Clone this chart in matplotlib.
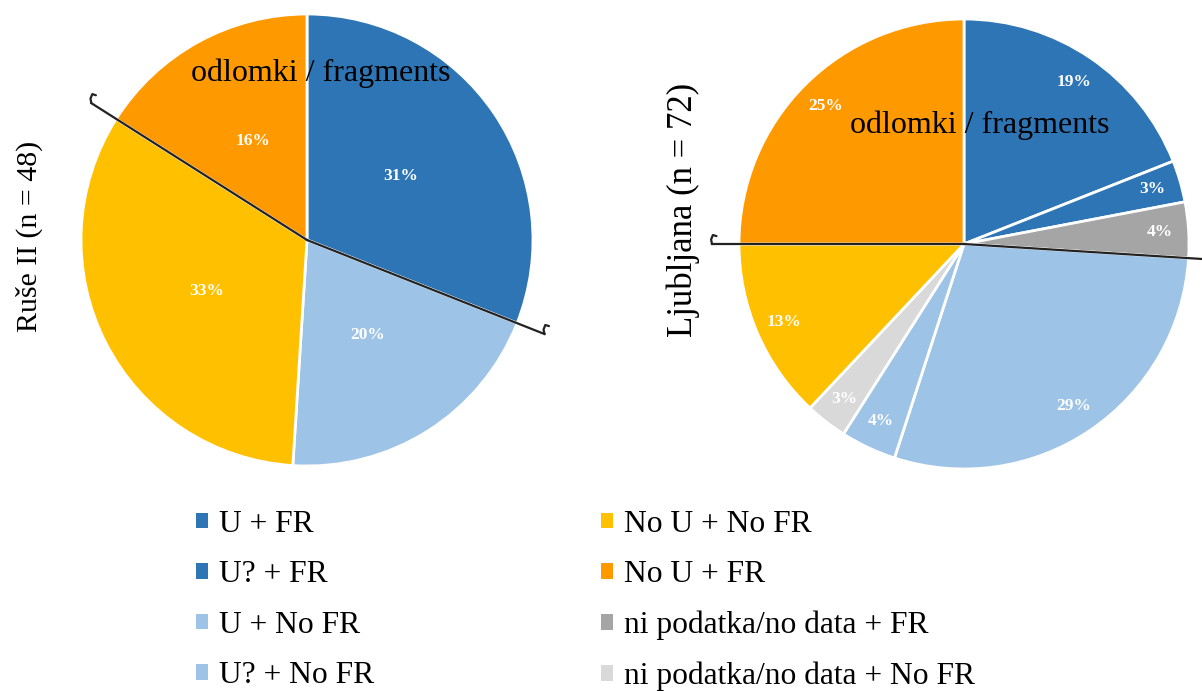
import numpy as np
import matplotlib
matplotlib.use("Agg")
import matplotlib.pyplot as plt
from matplotlib.patches import Patch

plt.rcParams['font.family'] = ['Liberation Serif', 'DejaVu Serif']

# categories in drawing order (clockwise from 12 o'clock)
categories = ["U + FR", "U? + FR", "ni podatka/no data + FR", "U + No FR",
              "U? + No FR", "ni podatka/no data + No FR", "No U + No FR", "No U + FR"]
colors = ["#2E75B6", "#2E75B6", "#A5A5A5", "#9DC3E6",
          "#9DC3E6", "#D9D9D9", "#FFC000", "#FF9900"]
has_fr = [True, True, True, False, False, False, False, True]

ruse_values = [31, 0, 0, 20, 0, 0, 33, 16]
ljubljana_values = [19, 3, 4, 29, 4, 3, 13, 25]

legend_col1 = ["U + FR", "U? + FR", "U + No FR", "U? + No FR"]
legend_col2 = ["No U + No FR", "No U + FR", "ni podatka/no data + FR", "ni podatka/no data + No FR"]

W, H = 1202, 691
fig = plt.figure(figsize=(W / 100, H / 100), dpi=100)


def pie_axes(cx, cy, r):
    ax = fig.add_axes([(cx - r) / W, (H - cy - r) / H, 2 * r / W, 2 * r / H])
    return ax


def hook(ax, x, y):
    hx = [x, x - 0.004, x + 0.004, x + 0.02]
    hy = [y, y + 0.02, y + 0.04, y + 0.035]
    ax.plot(hx, hy, color="#222222", lw=1.6, clip_on=False, solid_capstyle='round')


def draw_pie(ax, values, title, pctdist, title_pos, title_size, label_xy, ext):
    idx = [i for i, v in enumerate(values) if v > 0]
    vals = [values[i] for i in idx]
    cols = [colors[i] for i in idx]
    ax.pie(vals, colors=cols, startangle=90, counterclock=False,
           radius=1, frame=False,
           wedgeprops=dict(edgecolor="white", linewidth=2))
    ax.set_aspect('auto')
    ax.set_xlim(-1, 1)
    ax.set_ylim(-1, 1)
    ax.axis('off')
    total = float(sum(vals))
    cum = np.cumsum([0] + vals) / total
    # percentage labels
    for k, v in enumerate(vals):
        mid = np.deg2rad(90 - 360 * (cum[k] + cum[k + 1]) / 2)
        ax.text(pctdist * np.cos(mid), pctdist * np.sin(mid), f"{v}%",
                ha='center', va='center', color='white', fontsize=12.5, fontweight='bold')
    # fragment divider along FR / no FR boundaries
    flags = [has_fr[i] for i in idx]
    for k in range(len(vals)):
        if flags[k] != flags[(k + 1) % len(vals)]:
            ang = np.deg2rad(90 - 360 * cum[k + 1])
            ex, ey = ext * np.cos(ang), ext * np.sin(ang)
            ax.plot([0, ex], [0, ey], color="#222222", lw=1.6, clip_on=False)
            hook(ax, ex, ey)
    ax.text(label_xy[0], label_xy[1], "odlomki / fragments", ha='center', va='center',
            fontsize=23, color='black')
    fig.text(title_pos[0] / W, 1 - title_pos[1] / H, title, rotation=90,
             ha='center', va='center', fontsize=title_size)


ax1 = pie_axes(307, 240, 226)
draw_pie(ax1, ruse_values, "Ruše II (n = 48)", 0.5, (29, 236), 21.5, (0.06, 0.74), 1.13)

ax2 = pie_axes(964, 244, 225)
draw_pie(ax2, ljubljana_values, "Ljubljana (n = 72)", 0.87, (683, 210), 25, (0.07, 0.53), 1.12)


def make_legend(labels, x):
    handles = [Patch(facecolor=colors[categories.index(l)], edgecolor='none') for l in labels]
    fig.legend(handles, labels, loc='upper left', bbox_to_anchor=(x / W, 1 - 510 / H),
               frameon=False, fontsize=22.7, handlelength=0.38, handleheight=0.38,
               handletextpad=0.35, labelspacing=0.68, borderaxespad=0, borderpad=0)


make_legend(legend_col1, 196)
make_legend(legend_col2, 601)

fig.savefig("out.png", dpi=100)
